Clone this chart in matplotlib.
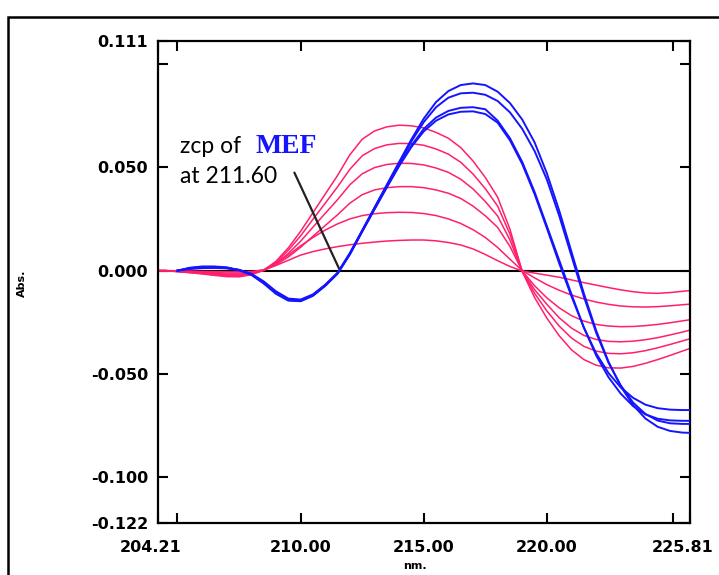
import numpy as np
import matplotlib
matplotlib.use("Agg")
import matplotlib.pyplot as plt
from matplotlib.patches import Rectangle
from matplotlib.transforms import ScaledTranslation

# wavelength grid (nm), values every 0.5 nm
wavelength = np.arange(204.0, 226.01, 0.5)

# first-derivative ratio spectra (pink family)
pink_1 = [0, 0, -0.0005, -0.0010, -0.0016, -0.0023, -0.0029, -0.0030, -0.0020, 0.0002,
          0.0045, 0.0110, 0.0190, 0.0280, 0.0370, 0.0460, 0.0560, 0.0635, 0.0675, 0.0695,
          0.0703, 0.0700, 0.0690, 0.0668, 0.0640, 0.0595, 0.0530, 0.0450, 0.0355, 0.0200,
          -0.0005, -0.0130, -0.0230, -0.0315, -0.0383, -0.0430, -0.0457, -0.0470, -0.0471, -0.0463,
          -0.0448, -0.0430, -0.0410, -0.0389, -0.0368]
pink_2 = [0, 0, -0.0004, -0.0009, -0.0014, -0.0020, -0.0025, -0.0026, -0.0017, 0.0002,
          0.0040, 0.0098, 0.0168, 0.0248, 0.0326, 0.0405, 0.0490, 0.0555, 0.0590, 0.0608,
          0.0615, 0.0614, 0.0606, 0.0588, 0.0563, 0.0524, 0.0467, 0.0396, 0.0312, 0.0176,
          -0.0004, -0.0110, -0.0195, -0.0268, -0.0326, -0.0366, -0.0389, -0.0400, -0.0402, -0.0397,
          -0.0387, -0.0373, -0.0357, -0.0340, -0.0323]
pink_3 = [0, 0, -0.0004, -0.0007, -0.0012, -0.0017, -0.0021, -0.0022, -0.0015, 0.0001,
          0.0034, 0.0083, 0.0142, 0.0210, 0.0277, 0.0343, 0.0415, 0.0468, 0.0498, 0.0513,
          0.0519, 0.0518, 0.0511, 0.0496, 0.0475, 0.0442, 0.0395, 0.0334, 0.0264, 0.0148,
          -0.0003, -0.0092, -0.0163, -0.0228, -0.0278, -0.0313, -0.0333, -0.0342, -0.0344, -0.0341,
          -0.0334, -0.0324, -0.0311, -0.0297, -0.0282]
pink_4 = [0, 0, -0.0003, -0.0006, -0.0009, -0.0013, -0.0017, -0.0017, -0.0011, 0.0001,
          0.0028, 0.0066, 0.0113, 0.0166, 0.0218, 0.0270, 0.0326, 0.0367, 0.0390, 0.0401,
          0.0406, 0.0406, 0.0401, 0.0390, 0.0374, 0.0349, 0.0312, 0.0265, 0.0209, 0.0117,
          -0.0002, -0.0073, -0.0132, -0.0180, -0.0218, -0.0244, -0.0260, -0.0268, -0.0271, -0.0270,
          -0.0266, -0.0260, -0.0252, -0.0243, -0.0234]
pink_5 = [0, 0, -0.0002, -0.0004, -0.0007, -0.0009, -0.0012, -0.0012, -0.0008, 0.0004,
          0.0035, 0.0075, 0.0120, 0.0160, 0.0196, 0.0226, 0.0250, 0.0266, 0.0275, 0.0280,
          0.0282, 0.0281, 0.0276, 0.0266, 0.0250, 0.0228, 0.0198, 0.0160, 0.0112, 0.0055,
          0.0000, -0.0035, -0.0068, -0.0095, -0.0118, -0.0137, -0.0152, -0.0163, -0.0171, -0.0175,
          -0.0176, -0.0174, -0.0170, -0.0165, -0.0160]
pink_6 = [0, 0, -0.0001, -0.0002, -0.0004, -0.0005, -0.0006, -0.0006, -0.0004, 0.0003,
          0.0025, 0.0050, 0.0075, 0.0092, 0.0105, 0.0116, 0.0125, 0.0132, 0.0138, 0.0143,
          0.0146, 0.0148, 0.0148, 0.0144, 0.0136, 0.0124, 0.0105, 0.0078, 0.0048, 0.0020,
          -0.0002, -0.0012, -0.0022, -0.0032, -0.0045, -0.0058, -0.0070, -0.0082, -0.0093, -0.0102,
          -0.0108, -0.0110, -0.0106, -0.0100, -0.0094]

# MEF spectra (blue family)
nan = np.nan
blue_1 = [nan, nan, 0.0000, 0.0008, 0.0012, 0.0013, 0.0011, 0.0004, -0.0015, -0.0052,
          -0.0100, -0.0135, -0.0140, -0.0115, -0.0068, -0.0010, 0.0085, 0.0195, 0.0305, 0.0415,
          0.0525, 0.0635, 0.0735, 0.0815, 0.0868, 0.0897, 0.0905, 0.0897, 0.0865, 0.0810,
          0.0730, 0.0620, 0.0470, 0.0290, 0.0090, -0.0110, -0.0290, -0.0440, -0.0560, -0.0650,
          -0.0715, -0.0755, -0.0775, -0.0783, -0.0785]
blue_2 = [nan, nan, 0.0000, 0.0010, 0.0015, 0.0015, 0.0012, 0.0003, -0.0018, -0.0056,
          -0.0104, -0.0138, -0.0143, -0.0118, -0.0070, -0.0012, 0.0082, 0.0192, 0.0302, 0.0412,
          0.0520, 0.0625, 0.0718, 0.0790, 0.0836, 0.0857, 0.0860, 0.0850, 0.0820, 0.0765,
          0.0685, 0.0578, 0.0440, 0.0265, 0.0070, -0.0125, -0.0300, -0.0445, -0.0555, -0.0638,
          -0.0693, -0.0725, -0.0738, -0.0741, -0.0741]
blue_3 = [nan, nan, 0.0000, 0.0012, 0.0018, 0.0018, 0.0014, 0.0002, -0.0020, -0.0060,
          -0.0110, -0.0142, -0.0146, -0.0120, -0.0072, -0.0014, 0.0080, 0.0190, 0.0298, 0.0405,
          0.0510, 0.0605, 0.0685, 0.0740, 0.0772, 0.0787, 0.0790, 0.0780, 0.0725, 0.0640,
          0.0525, 0.0380, 0.0215, 0.0050, -0.0115, -0.0275, -0.0410, -0.0515, -0.0595, -0.0655,
          -0.0695, -0.0716, -0.0724, -0.0726, -0.0726]
blue_4 = [nan, nan, 0.0000, 0.0014, 0.0020, 0.0020, 0.0016, 0.0003, -0.0020, -0.0062,
          -0.0112, -0.0145, -0.0148, -0.0122, -0.0074, -0.0015, 0.0078, 0.0188, 0.0296, 0.0402,
          0.0505, 0.0598, 0.0673, 0.0725, 0.0755, 0.0768, 0.0770, 0.0757, 0.0715, 0.0630,
          0.0515, 0.0370, 0.0205, 0.0035, -0.0125, -0.0275, -0.0400, -0.0495, -0.0565, -0.0615,
          -0.0648, -0.0665, -0.0672, -0.0674, -0.0674]

pink_curves = [pink_1, pink_2, pink_3, pink_4, pink_5, pink_6]
blue_curves = [blue_1, blue_2, blue_3, blue_4]

x_ticks = [204.21, 210.0, 215.0, 220.0, 225.81]
x_labels = ["204.21", "210.00", "215.00", "220.00", "225.81"]
y_ticks = [0.111, 0.100, 0.050, 0.000, -0.050, -0.100, -0.122]
y_labels = ["0.111", "", "0.050", "0.000", "-0.050", "-0.100", "-0.122"]

zcp = 211.60

fig = plt.figure(figsize=(7.19, 5.75), dpi=100)
ax = fig.add_axes([158 / 719, 52 / 575, 532 / 719, 482 / 575])

ax.axhline(0, color="black", lw=1.5, zorder=1)
for y in pink_curves:
    ax.plot(wavelength, y, color="#ff1f6e", lw=1.1, zorder=2)
for y in blue_curves:
    ax.plot(wavelength, y, color="#1414ff", lw=1.4, zorder=3)

ax.set_xlim(204.21, 225.81)
ax.set_ylim(-0.122, 0.111)

ax.set_xticks(x_ticks)
ax.set_xticklabels(x_labels)
ax.set_xticks([204.98, 225.12], minor=True)
ax.set_yticks(y_ticks)
ax.set_yticklabels(y_labels)
ax.tick_params(which="both", direction="in", top=True, right=True, length=7, width=1.5)
ax.tick_params(axis="x", pad=12)
ax.tick_params(axis="y", pad=7)
for lab in ax.get_xticklabels() + ax.get_yticklabels():
    lab.set_fontweight("bold")
    lab.set_fontsize(11.5)
# end labels sit a little left of the spines
shift = ScaledTranslation(-5 / 72, 0, fig.dpi_scale_trans)
xl = ax.get_xticklabels()
for lab in (xl[0], xl[-1]):
    lab.set_transform(lab.get_transform() + shift)
for sp in ax.spines.values():
    sp.set_linewidth(1.6)

# annotation
ax.annotate("", xy=(zcp, 0.0), xytext=(209.70, 0.0486),
            arrowprops=dict(arrowstyle="-", color="#222222", lw=1.6))
fig.text(180 / 719, 1 - 153 / 575, "zcp of", fontsize=16.5, family="Lato", color="black")
fig.text(255 / 719, 1 - 153 / 575, "MEF", fontsize=20, family="Liberation Serif",
         fontweight="bold", color="#1414ff")
fig.text(180 / 719, 1 - 183 / 575, "at 211.60", fontsize=16.5, family="Lato", color="black")

fig.text(415 / 719, 1 - 566 / 575, "nm.", fontsize=8, fontweight="bold", ha="center", va="center")
fig.text(22 / 719, 1 - 283 / 575, "Abs.", fontsize=8, fontweight="bold", rotation=90,
         ha="center", va="center")

# outer frame
fig.patches.append(Rectangle((8 / 719, -0.5), 2.0, 0.5 + 1 - 17 / 575, transform=fig.transFigure,
                             fill=False, edgecolor="black", lw=1.8))

fig.savefig("out.png", dpi=100)
